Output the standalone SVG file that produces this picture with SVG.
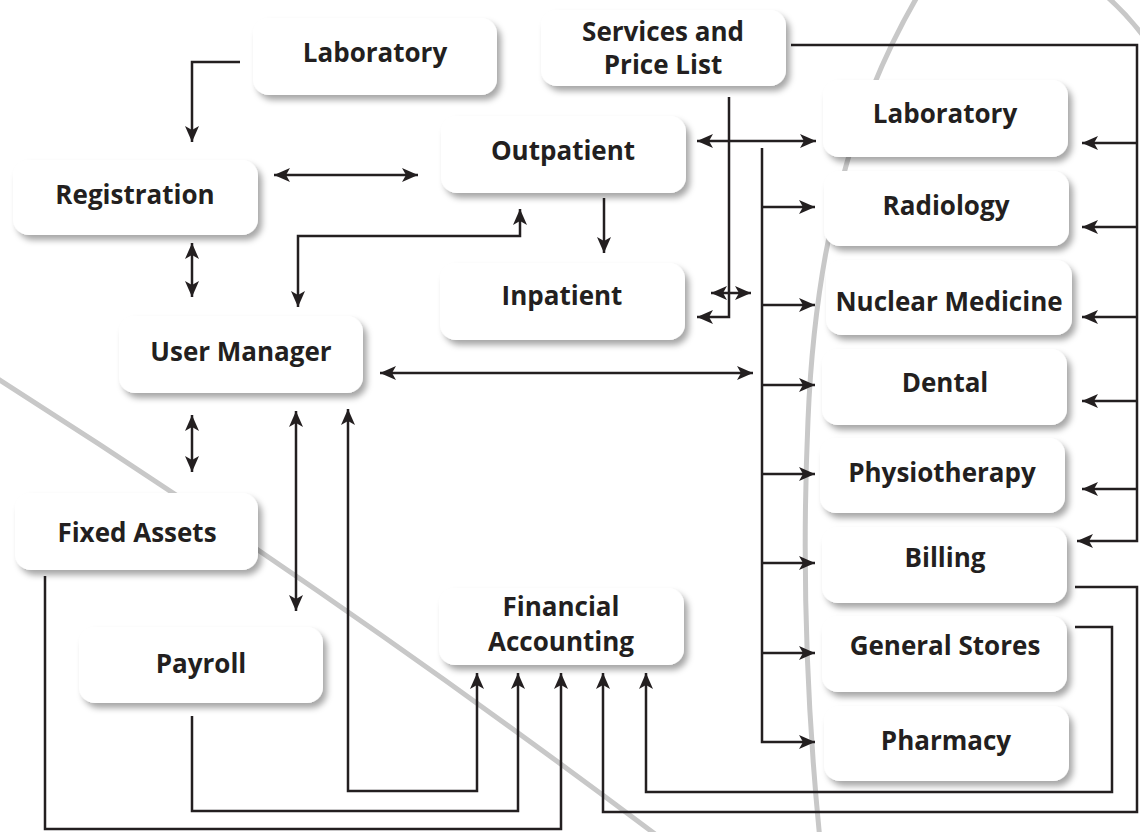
<svg xmlns="http://www.w3.org/2000/svg" width="1140" height="832" viewBox="0 0 1140 832">
<defs>
<filter id="sh" x="-10%" y="-20%" width="125%" height="150%">
<feDropShadow dx="4" dy="5" stdDeviation="3" flood-color="#000" flood-opacity="0.35"/>
</filter>
<marker id="ah" markerUnits="userSpaceOnUse" markerWidth="17" markerHeight="16" refX="16" refY="8" orient="auto-start-reverse">
<path d="M0,1 L16,8 L0,15 L4,8 Z" fill="#231f20"/>
</marker>
<style>
.bg{fill:none;stroke:#c8c8c8;stroke-width:5}
.n rect{fill:#fff;filter:url(#sh)}
.n text{font-family:"Open Sans","Noto Sans","DejaVu Sans",sans-serif;font-weight:700;font-size:26px;fill:#231f20;text-anchor:middle}
#conn path{fill:none;stroke:#231f20;stroke-width:2.5}
.e{marker-end:url(#ah)}
.b{marker-start:url(#ah);marker-end:url(#ah)}
</style>
</defs>
<rect width="1140" height="832" fill="#fff"/>
<g id="background">
<path class="bg" d="M-5,377 Q330,590 655,834"/>
<path class="bg" d="M920,-8 C850,110 815,250 808,420 C800,600 810,740 820,840"/>
<path class="bg" d="M1105,-5 Q1125,12 1145,38"/>
</g>
<g id="conn">
<path class="e" d="M240,62 H192 V142"/>
<path class="b" d="M274,175 H418"/>
<path class="b" d="M192,243 V297"/>
<path class="b" d="M298,307 V236 H520 V209"/>
<path class="e" d="M604,198 V253"/>
<path class="e" d="M729,97 V317 H697"/>
<path class="b" d="M697,141 H816"/>
<path class="e" d="M762,148 V742 H815"/>
<path class="e" d="M762,207 H815"/>
<path class="e" d="M762,305 H815"/>
<path class="e" d="M762,385 H815"/>
<path class="e" d="M762,474 H815"/>
<path class="e" d="M762,563 H815"/>
<path class="e" d="M762,653 H815"/>
<path class="b" d="M711,293 H751"/>
<path class="b" d="M380,373 H753"/>
<path class="e" d="M791,45 H1137 V541 H1077"/>
<path class="e" d="M1137,143 H1082"/>
<path class="e" d="M1137,227 H1082"/>
<path class="e" d="M1137,317 H1082"/>
<path class="e" d="M1137,401 H1082"/>
<path class="e" d="M1137,489 H1082"/>
<path class="e" d="M1075,587 H1137 V812 H603 V673"/>
<path class="e" d="M1075,627 H1112 V792 H646 V673"/>
<path class="b" d="M296,411 V611"/>
<path class="b" d="M348,409 V791 H477 V673"/>
<path class="e" d="M192,716 V811 H518 V673"/>
<path class="e" d="M45,576 V829 H561 V673"/>
<path class="b" d="M192,415 V472"/>
</g>
<g id="laboratory-top" class="n"><rect x="253" y="18" width="244" height="77" rx="16"/><text x="375" y="62">Laboratory</text></g>
<g id="services" class="n"><rect x="541" y="10" width="245" height="76" rx="16"/><text x="663" y="41">Services and</text><text x="663" y="74">Price List</text></g>
<g id="registration" class="n"><rect x="13" y="160" width="245" height="75" rx="16"/><text x="135" y="204">Registration</text></g>
<g id="outpatient" class="n"><rect x="441" y="116" width="245" height="77" rx="16"/><text x="563" y="160">Outpatient</text></g>
<g id="inpatient" class="n"><rect x="440" y="263" width="245" height="77" rx="16"/><text x="562" y="305">Inpatient</text></g>
<g id="user-manager" class="n"><rect x="119" y="316" width="244" height="77" rx="16"/><text x="241" y="361">User Manager</text></g>
<g id="fixed-assets" class="n"><rect x="15" y="493" width="243" height="77" rx="16"/><text x="137" y="542">Fixed Assets</text></g>
<g id="payroll" class="n"><rect x="79" y="627" width="244" height="76" rx="16"/><text x="201" y="673">Payroll</text></g>
<g id="financial-accounting" class="n"><rect x="439" y="588" width="245" height="77" rx="16"/><text x="561" y="616">Financial</text><text x="561" y="651">Accounting</text></g>
<g id="laboratory-right" class="n"><rect x="823" y="80" width="245" height="77" rx="16"/><text x="945" y="123">Laboratory</text></g>
<g id="radiology" class="n"><rect x="824" y="171" width="245" height="75" rx="16"/><text x="946" y="215">Radiology</text></g>
<g id="nuclear-medicine" class="n"><rect x="826" y="260" width="246" height="75" rx="16"/><text x="949" y="311">Nuclear Medicine</text></g>
<g id="dental" class="n"><rect x="822" y="349" width="245" height="76" rx="16"/><text x="945" y="392">Dental</text></g>
<g id="physiotherapy" class="n"><rect x="820" y="438" width="245" height="75" rx="16"/><text x="942" y="482">Physiotherapy</text></g>
<g id="billing" class="n"><rect x="822" y="527" width="245" height="76" rx="16"/><text x="945" y="567">Billing</text></g>
<g id="general-stores" class="n"><rect x="822" y="616" width="245" height="76" rx="16"/><text x="945" y="655">General Stores</text></g>
<g id="pharmacy" class="n"><rect x="824" y="706" width="245" height="75" rx="16"/><text x="946" y="750">Pharmacy</text></g>
</svg>
